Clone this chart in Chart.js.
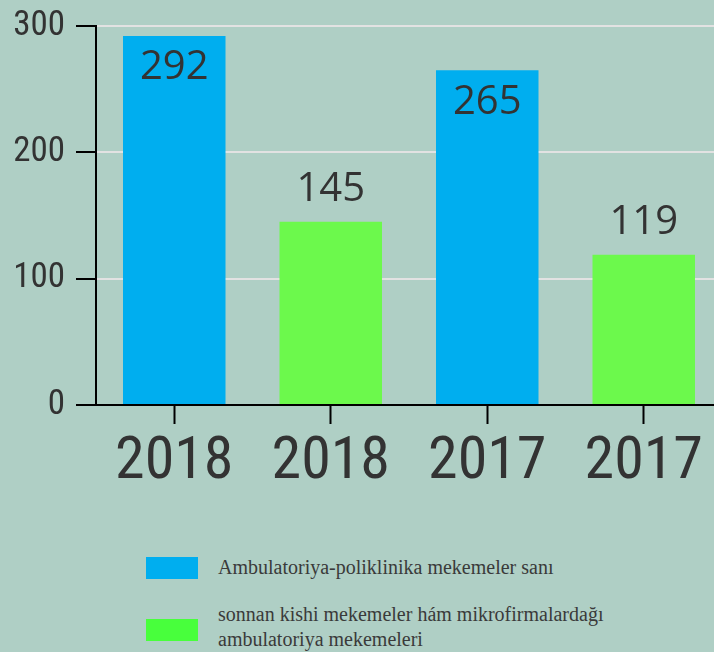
<!DOCTYPE html>
<html>
<head>
<meta charset="utf-8">
<script src="https://cdn.jsdelivr.net/npm/chart.js@4"></script>
<style>
  html, body { margin: 0; padding: 0; background: #AFCFC5; overflow: hidden; }
  #wrap { position: relative; width: 714px; height: 652px; overflow: hidden; background: #AFCFC5; }
  #cv { position: absolute; left: 0; top: 0; }
  .leg { position: absolute; left: 146px; font-family: "Liberation Serif", "Times New Roman", serif; font-size: 20px; color: #3a3a3a; }
  .sw { position: absolute; left: 0; width: 52px; height: 22px; }
  .tx { position: absolute; left: 72px; width: 440px; line-height: 25px; }
</style>
</head>
<body>
<div id="wrap">
  <canvas id="cv" width="722" height="500" style="width:722px;height:500px"></canvas>
  <div id="legend"></div>
</div>
<script>
const categories = ["2018", "2018", "2017", "2017"];
const seriesNames = [
  "Ambulatoriya-poliklinika mekemeler sanı",
  "sonnan kishi mekemeler hám mikrofirmalardağı ambulatoriya mekemeleri"
];
const ambulatoryValues = [292, null, 265, null];
const smallValues = [null, 145, null, 119];
const yTicks = [0, 100, 200, 300];

const blue = "#00AEEF";
const green = "#6CF94C";
const legendGreen = "#48FF3C";
const textColor = "#333333";

const labelPlugin = {
  id: "valueLabels",
  afterDatasetsDraw(chart) {
    const ctx = chart.ctx;
    ctx.save();
    ctx.fillStyle = textColor;
    ctx.font = '40px "Open Sans", "Noto Sans", sans-serif';
    ctx.textAlign = "center";
    ctx.textBaseline = "middle";
    chart.data.datasets.forEach((ds, di) => {
      const meta = chart.getDatasetMeta(di);
      meta.data.forEach((bar, i) => {
        const v = ds.data[i];
        if (v === null || v === undefined) return;
        const y = chart.scales.y.getPixelForValue(v);
        const ly = di === 0 ? y + 32 : y - 32;
        ctx.fillText(String(v), bar.x, ly);
      });
    });
    ctx.restore();
  }
};

new Chart(document.getElementById("cv"), {
  type: "bar",
  data: {
    labels: categories,
    datasets: [
      { label: seriesNames[0], data: ambulatoryValues, backgroundColor: blue },
      { label: seriesNames[1], data: smallValues, backgroundColor: green }
    ]
  },
  options: {
    responsive: false,
    animation: false,
    devicePixelRatio: 1,
    layout: { padding: { top: 26, right: 0, left: 0, bottom: 0 } },
    datasets: { bar: { grouped: false, categoryPercentage: 1, barPercentage: 0.655, skipNull: true } },
    plugins: { legend: { display: false }, tooltip: { enabled: false } },
    scales: {
      x: {
        offset: true,
        grid: { display: true, offset: false, drawOnChartArea: false, drawTicks: true, tickLength: 19, tickColor: "#000", tickWidth: 2 },
        border: { display: true, color: "#000", width: 2 },
        ticks: { color: textColor, font: { family: '"Liberation Sans Narrow", "Roboto Condensed", Roboto, sans-serif', size: 60 }, padding: 3, maxRotation: 0 },
        afterFit(scale) { scale.height = 95; scale.paddingLeft = 0; scale.paddingRight = 0; }
      },
      y: {
        min: 0, max: 300,
        afterBuildTicks(scale) { scale.ticks = yTicks.map(v => ({ value: v })); },
        grid: { color: "#E2E2E2", lineWidth: 2, tickColor: "#000", tickLength: 20, tickWidth: 2 },
        border: { display: true, color: "#000", width: 2 },
        ticks: { color: textColor, font: { family: '"Liberation Sans Narrow", "Roboto Condensed", Roboto, sans-serif', size: 35 }, padding: 11 },
        afterFit(scale) { scale.width = 96; scale.paddingTop = 0; scale.paddingBottom = 0; }
      }
    }
  },
  plugins: [labelPlugin]
});

// HTML legend built from the dataset names/colours
const legend = document.getElementById("legend");
const legendTops = [557, 619];
const textTops = [555, 602];
[blue, legendGreen].forEach((c, i) => {
  const item = document.createElement("div");
  item.className = "leg";
  item.style.top = legendTops[i] + "px";
  const sw = document.createElement("div");
  sw.className = "sw";
  sw.style.background = c;
  sw.style.top = "0px";
  const tx = document.createElement("div");
  tx.className = "tx";
  tx.style.top = (textTops[i] - legendTops[i]) + "px";
  tx.style.width = i === 1 ? "400px" : "480px";
  tx.textContent = seriesNames[i];
  item.appendChild(sw);
  item.appendChild(tx);
  legend.appendChild(item);
});
</script>
</body>
</html>
